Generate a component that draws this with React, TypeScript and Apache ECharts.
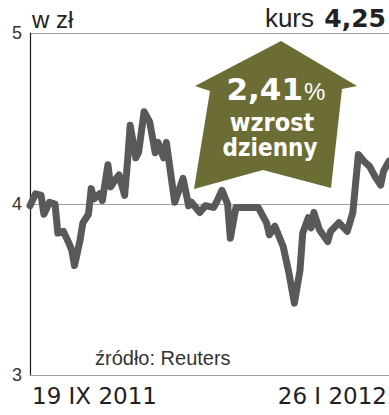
import React, { useEffect, useRef } from "react";
import * as echarts from "echarts";

// Closing prices (zł), Sep 19 2011 – Jan 26 2012
const dates = [
  "2011-09-19", "2011-09-21", "2011-09-23", "2011-09-24", "2011-09-26", "2011-09-28", "2011-09-29",
  "2011-10-01", "2011-10-03", "2011-10-04", "2011-10-05", "2011-10-07", "2011-10-08", "2011-10-10",
  "2011-10-11", "2011-10-12", "2011-10-14", "2011-10-15", "2011-10-17", "2011-10-18", "2011-10-20",
  "2011-10-21", "2011-10-23", "2011-10-24", "2011-10-25", "2011-10-27", "2011-10-28", "2011-10-30",
  "2011-11-01", "2011-11-03", "2011-11-04", "2011-11-06", "2011-11-07", "2011-11-10", "2011-11-13",
  "2011-11-15", "2011-11-16", "2011-11-19", "2011-11-21", "2011-11-24", "2011-11-25", "2011-11-27",
  "2011-11-29", "2011-11-30", "2011-12-02", "2011-12-05", "2011-12-08", "2011-12-10", "2011-12-13",
  "2011-12-14", "2011-12-16", "2011-12-19", "2011-12-21", "2011-12-23", "2011-12-25", "2011-12-26",
  "2011-12-28", "2011-12-29", "2011-12-30", "2012-01-01", "2012-01-04", "2012-01-05", "2012-01-08",
  "2012-01-11", "2012-01-13", "2012-01-15", "2012-01-17", "2012-01-19", "2012-01-21", "2012-01-23",
  "2012-01-24", "2012-01-26",
];
const prices = [
  3.99, 4.06, 4.05, 3.94, 4.01, 4.0, 3.83,
  3.84, 3.77, 3.73, 3.64, 3.79, 3.89, 3.94,
  4.09, 4.03, 4.06, 4.02, 4.23, 4.1, 4.15,
  4.17, 4.05, 4.24, 4.46, 4.27, 4.3, 4.54,
  4.48, 4.3, 4.36, 4.27, 4.36, 4.01, 4.15,
  3.99, 4.01, 3.95, 3.99, 3.98, 4.01, 4.08,
  4.0, 3.8, 3.98, 3.98, 3.98, 3.98, 3.89,
  3.82, 3.87, 3.75, 3.6, 3.42, 3.61, 3.83,
  3.92, 3.86, 3.95, 3.85, 3.78, 3.84, 3.89,
  3.84, 3.95, 4.29, 4.25, 4.22, 4.16, 4.11,
  4.19, 4.25,
];
const yTicks = [3, 4, 5];
const startLabel = "19 IX 2011";
const endLabel = "26 I 2012";
const unitLabel = "w zł";
const priceLabel = "kurs";
const priceValue = "4,25";
const changeValue = "2,41";
const changeWords = ["wzrost", "dzienny"];
const sourceLabel = "źródło: Reuters";

const toTs = (s: string) => Date.parse(s + "T00:00:00Z");

export default function App() {
  const ref = useRef<HTMLDivElement>(null);
  useEffect(() => {
    if (!ref.current) return;
    const chart = echarts.init(ref.current, undefined, { renderer: "svg" });
    const data = dates.map((d, i) => [toTs(d), prices[i]]);
    const olive = "#6b6d35";
    chart.setOption({
      animation: false,
      grid: { left: 30, right: 0, top: 33, bottom: 40 },
      xAxis: {
        type: "time",
        min: toTs(dates[0]),
        max: toTs(dates[dates.length - 1]),
        axisLine: { show: true, lineStyle: { color: "#a0a0a0", width: 1 } },
        axisTick: { show: false },
        axisLabel: { show: false },
        splitLine: { show: false },
      },
      yAxis: {
        type: "value",
        min: yTicks[0],
        max: yTicks[yTicks.length - 1],
        interval: 1,
        axisLine: { show: true, lineStyle: { color: "#1a1a1a", width: 1.2 } },
        axisTick: { show: false },
        axisLabel: {
          margin: 8,
          color: "#333",
          fontSize: 18,
          fontFamily: "Liberation Sans, Arial, sans-serif",
          verticalAlign: "middle",
          padding: [4, 0, 0, 0],
        },
        splitLine: { show: true, lineStyle: { color: "#a0a0a0", width: 1 } },
      },
      series: [
        {
          type: "line",
          data,
          showSymbol: false,
          symbol: "none",
          lineStyle: { color: "#58595b", width: 7, cap: "round", join: "round" },
          z: 2,
        },
      ],
      graphic: [
        {
          type: "polygon",
          shape: {
            points: [
              [281, 41], [357, 86], [342, 89], [331, 188], [263, 170],
              [194, 189], [210, 91], [195, 86],
            ],
          },
          style: { fill: olive },
          z: 10,
        },
        {
          type: "text",
          x: 303,
          y: 89,
          style: {
            text: changeValue,
            fill: "#ffffff",
            font: "bold 31px 'DejaVu Sans', sans-serif",
            textAlign: "right",
            textVerticalAlign: "middle",
          },
          z: 11,
        },
        {
          type: "text",
          x: 304,
          y: 91,
          style: {
            text: "%",
            fill: "#ffffff",
            font: "24px 'Liberation Sans', Arial, sans-serif",
            textAlign: "left",
            textVerticalAlign: "middle",
          },
          z: 11,
        },
        {
          type: "text",
          x: 272,
          y: 122,
          style: {
            text: changeWords[0],
            fill: "#ffffff",
            font: "bold 25px 'DejaVu Sans Condensed', 'DejaVu Sans', sans-serif",
            textAlign: "center",
            textVerticalAlign: "middle",
          },
          z: 11,
        },
        {
          type: "text",
          x: 270,
          y: 148,
          style: {
            text: changeWords[1],
            fill: "#ffffff",
            font: "bold 24px 'DejaVu Sans Condensed', 'DejaVu Sans', sans-serif",
            textAlign: "center",
            textVerticalAlign: "middle",
          },
          z: 11,
        },
        {
          type: "text",
          x: 32,
          y: 19,
          style: {
            text: unitLabel,
            fill: "#222",
            font: "24px 'Liberation Sans', Arial, sans-serif",
            textAlign: "left",
            textVerticalAlign: "middle",
          },
        },
        {
          type: "text",
          x: 314,
          y: 18,
          style: {
            text: priceLabel,
            fill: "#222",
            font: "26px 'Liberation Sans', Arial, sans-serif",
            textAlign: "right",
            textVerticalAlign: "middle",
          },
        },
        {
          type: "text",
          x: 386,
          y: 18,
          style: {
            text: priceValue,
            fill: "#222",
            font: "bold 25px 'DejaVu Sans', sans-serif",
            textAlign: "right",
            textVerticalAlign: "middle",
          },
        },
        {
          type: "text",
          x: 95,
          y: 358,
          style: {
            text: sourceLabel,
            fill: "#333",
            font: "20px 'Liberation Sans', Arial, sans-serif",
            textAlign: "left",
            textVerticalAlign: "middle",
          },
        },
        {
          type: "text",
          x: 32,
          y: 396,
          style: {
            text: startLabel,
            fill: "#231f20",
            font: "23px 'DejaVu Sans', sans-serif",
            textAlign: "left",
            textVerticalAlign: "middle",
          },
        },
        {
          type: "text",
          x: 387,
          y: 396,
          style: {
            text: endLabel,
            fill: "#231f20",
            font: "23px 'DejaVu Sans', sans-serif",
            textAlign: "right",
            textVerticalAlign: "middle",
          },
        },
      ],
    });
    return () => chart.dispose();
  }, []);
  return (
    <div
      ref={ref}
      style={{ position: "fixed", left: 0, top: 0, width: 389, height: 415, background: "#fff" }}
    />
  );
}
